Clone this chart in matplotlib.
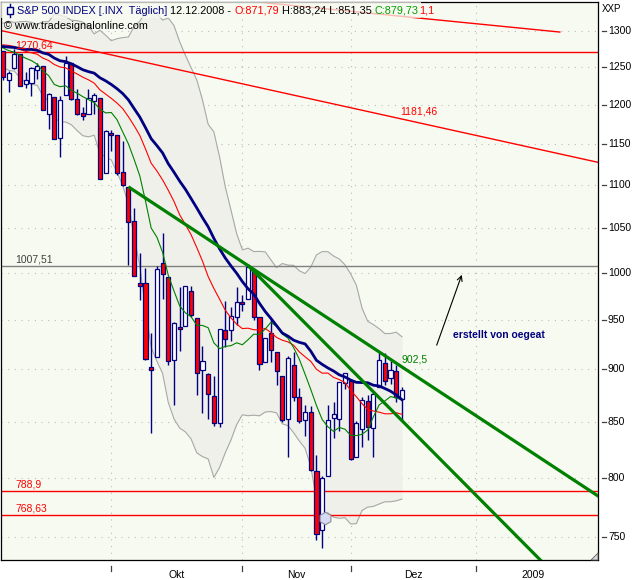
import matplotlib
matplotlib.use("Agg")
import matplotlib.pyplot as plt
import matplotlib.transforms as mtransforms
from matplotlib.patches import Rectangle, Polygon
from matplotlib.lines import Line2D
import numpy as np

plt.rcParams['font.family'] = ['Liberation Sans', 'DejaVu Sans']

# S&P 500 daily bars 04.09.2008 .. 12.12.2008 (bar index 0..70)
opens = [1271.80, 1233.21, 1249.50, 1267.98, 1227.50, 1229.04, 1245.88, 1250.92, 1188.31, 1210.34,
         1157.08, 1213.11, 1255.37, 1207.61, 1188.79, 1187.87, 1204.47, 1209.07, 1113.78, 1164.17,
         1160.64, 1115.16, 1097.56, 1057.60, 988.91, 988.42, 902.31, 912.75, 1009.97, 994.60,
         909.53, 942.29, 943.51, 980.40, 951.67, 899.08, 895.22, 874.28, 848.92, 939.51,
         939.38, 953.11, 968.67, 971.31, 1001.84, 952.40, 907.44, 936.75, 917.15, 893.39,
         853.13, 904.36, 873.23, 852.34, 859.03, 805.87, 755.84, 801.20, 853.40, 852.90,
         886.89, 888.61, 817.94, 843.60, 869.75, 844.43, 882.71, 906.48, 892.17, 898.35,
         871.79]
highs = [1271.80, 1244.94, 1274.42, 1268.66, 1243.90, 1249.98, 1255.09, 1250.92, 1214.84, 1210.34,
         1211.14, 1265.12, 1255.37, 1221.15, 1197.41, 1220.03, 1215.77, 1209.07, 1168.03, 1167.03,
         1160.64, 1153.82, 1097.56, 1072.91, 1021.06, 1005.25, 936.36, 1006.93, 1044.31, 994.60,
         947.71, 984.64, 985.40, 985.44, 951.67, 922.83, 896.30, 893.78, 940.51, 969.97,
         963.23, 984.38, 975.57, 1007.51, 1001.84, 952.40, 931.46, 951.95, 917.15, 893.39,
         913.01, 916.88, 882.29, 865.90, 864.57, 820.52, 801.20, 865.60, 868.94, 887.68,
         896.25, 888.61, 850.54, 873.12, 875.60, 879.42, 918.57, 916.26, 908.27, 904.63,
         883.24]
lows = [1232.83, 1217.23, 1247.12, 1224.51, 1221.60, 1211.54, 1233.81, 1192.70, 1169.28, 1155.88,
        1133.50, 1213.11, 1205.61, 1187.06, 1179.79, 1187.87, 1187.54, 1106.39, 1113.78, 1140.77,
        1111.43, 1098.14, 1007.97, 996.23, 970.97, 909.19, 839.80, 912.75, 972.07, 903.99,
        865.83, 918.74, 943.51, 952.47, 875.81, 858.44, 852.85, 846.75, 845.27, 922.26,
        928.50, 944.59, 958.82, 971.31, 949.86, 899.73, 906.90, 907.47, 884.90, 850.48,
        818.69, 869.88, 848.98, 837.54, 806.18, 747.78, 741.02, 801.20, 834.99, 841.37,
        881.21, 815.69, 817.94, 827.60, 833.60, 818.41, 882.71, 885.38, 885.45, 868.73,
        851.35]
closes = [1236.83, 1242.31, 1267.79, 1224.51, 1232.04, 1249.05, 1251.70, 1192.70, 1213.60, 1156.39,
          1206.51, 1255.08, 1207.09, 1188.22, 1185.87, 1209.18, 1213.27, 1106.39, 1166.36, 1161.06,
          1114.28, 1099.23, 1056.89, 996.23, 984.94, 909.92, 899.22, 1003.35, 998.01, 907.84,
          946.43, 940.55, 985.40, 955.05, 896.78, 908.11, 876.77, 848.92, 940.51, 930.09,
          954.09, 968.75, 966.30, 1005.75, 952.77, 904.88, 930.99, 919.21, 898.95, 852.30,
          911.29, 873.29, 850.75, 859.12, 806.58, 752.44, 800.03, 851.81, 857.39, 887.68,
          896.24, 816.21, 848.81, 870.74, 845.22, 876.07, 909.70, 888.67, 899.24, 873.59,
          879.73]

# indicator lines as shown on the chart
ma_slow = [1278.3, 1277.6, 1277.0, 1275.4, 1274.3, 1274.3, 1273.1, 1269.5, 1267.6, 1262.4,
           1258.7, 1257.5, 1254.5, 1250.7, 1246.5, 1243.9, 1241.9, 1235.7, 1231.6, 1226.7,
           1221.1, 1214.7, 1206.4, 1195.1, 1184.1, 1170.5, 1156.5, 1147.9, 1138.8, 1125.5,
           1115.2, 1104.4, 1094.7, 1083.7, 1072.7, 1061.4, 1051.0, 1037.8, 1026.1, 1015.9,
           1007.2, 999.2, 990.2, 982.5, 976.8, 967.1, 958.6, 951.4, 943.9, 936.4,
           933.2, 929.1, 926.9, 925.4, 918.1, 909.0, 905.0, 901.5, 898.5, 894.8,
           892.7, 889.7, 887.5, 887.3, 887.1, 884.7, 884.0, 881.6, 879.0, 875.5,
           870.9]
ma20 = [1280.8, 1279.8, 1278.4, 1274.4, 1271.5, 1269.7, 1267.6, 1262.4, 1259.1, 1253.6,
        1250.2, 1249.0, 1244.8, 1240.8, 1236.5, 1232.9, 1228.5, 1219.6, 1214.0, 1208.3,
        1202.2, 1195.0, 1184.5, 1173.1, 1160.7, 1143.8, 1126.1, 1116.7, 1105.9, 1093.5,
        1080.4, 1064.7, 1053.6, 1042.0, 1027.5, 1012.5, 995.6, 982.8, 971.5, 959.9,
        951.9, 945.4, 940.9, 941.3, 939.7, 939.5, 941.1, 936.9, 931.9, 929.1,
        927.4, 924.0, 917.3, 912.5, 908.0, 900.2, 896.4, 896.5, 892.3, 890.2,
        887.3, 879.7, 873.8, 867.1, 861.7, 860.3, 859.2, 857.7, 857.7, 858.7,
        857.2]
ma10 = [1276.3, 1272.7, 1270.3, 1266.1, 1262.1, 1258.9, 1254.0, 1244.9, 1238.6, 1226.7,
        1223.7, 1224.9, 1218.9, 1215.2, 1210.6, 1206.6, 1202.8, 1194.2, 1189.4, 1189.9,
        1180.7, 1165.1, 1150.1, 1130.9, 1110.8, 1080.9, 1049.5, 1039.2, 1022.3, 997.0,
        980.2, 964.3, 957.2, 953.1, 944.3, 944.1, 941.8, 926.4, 920.6, 922.9,
        923.6, 926.5, 924.5, 929.6, 935.2, 934.9, 940.3, 947.3, 943.2, 935.4,
        931.1, 921.6, 910.0, 895.4, 880.7, 865.5, 852.4, 845.7, 841.5, 845.0,
        843.5, 837.8, 837.6, 838.8, 842.7, 855.0, 866.0, 869.7, 873.9, 872.5,
        870.8]
bb_upper = [1311.1, 1314.0, 1312.2, 1313.2, 1313.7, 1312.4, 1309.6, 1313.2, 1313.4, 1323.9,
            1322.5, 1320.3, 1315.4, 1314.8, 1312.7, 1307.0, 1296.0, 1301.2, 1294.1, 1286.5,
            1289.2, 1290.8, 1291.6, 1306.2, 1314.0, 1326.4, 1330.4, 1325.2, 1315.5, 1318.5,
            1307.9, 1285.0, 1266.3, 1249.4, 1233.0, 1206.3, 1174.7, 1165.1, 1133.8, 1097.7,
            1070.2, 1043.1, 1024.9, 1026.8, 1023.0, 1023.2, 1022.8, 1013.9, 1005.3, 1009.8,
            1008.1, 1007.8, 1001.9, 998.9, 1005.8, 1019.3, 1023.0, 1022.9, 1018.1, 1014.8,
            1008.5, 998.5, 986.4, 962.0, 948.4, 944.9, 940.8, 935.8, 935.9, 937.2,
            932.6]
bb_lower = [1250.5, 1245.6, 1244.6, 1235.6, 1229.3, 1226.9, 1225.6, 1211.5, 1204.8, 1183.3,
            1177.8, 1177.7, 1174.1, 1166.8, 1160.3, 1158.8, 1160.9, 1138.0, 1133.9, 1130.1,
            1115.2, 1099.2, 1077.4, 1039.9, 1007.4, 961.2, 921.9, 908.1, 896.2, 868.4,
            853.0, 844.5, 841.0, 834.6, 822.1, 818.7, 816.6, 800.4, 809.1, 822.1,
            833.6, 847.7, 856.8, 855.9, 856.4, 855.8, 859.3, 859.8, 858.5, 848.4,
            846.7, 840.2, 832.7, 826.1, 810.2, 781.1, 769.8, 770.1, 766.6, 765.6,
            766.2, 760.9, 761.2, 772.2, 775.0, 775.6, 777.6, 779.5, 779.5, 780.3,
            781.8]

month_starts = [19, 42, 61, 83]
month_ends = [42, 61, 83, 103]
month_labels = ['Okt', 'Nov', 'Dez', '2009']
price_ticks = [750, 800, 850, 900, 950, 1000, 1050, 1100, 1150, 1200, 1250, 1300]

hline_values = [1270.64, 1007.51, 788.9, 768.63]
hline_labels = ['1270,64', '1007,51', '788,9', '768,63']
hline_colors = ['#ff0000', '#808080', '#ff0000', '#ff0000']
hline_text_colors = ['#ff0000', '#404040', '#ff0000', '#ff0000']

# trend lines: two anchor points (bar index, price) and the bar where they end
green_up = [(22, 1097.56), (43, 1007.51), 105]
green_steep = [(43, 1007.51), (70, 851.35), 105]
red_long = [(-0.5, 1301.0), (70, 1181.46), 105]
red_top = [(40, 1345.5), (97.7, 1298.6), 97.7]

arrow_from = (76.1, 924.1)
arrow_to = (80.5, 997.5)
marker_pt = (56.5, 765.7)

BG = '#f7faf0'
BAND = '#eef0e9'
NAVY = '#000080'
GREEN = '#008000'
RED = '#ff0000'


def trend(line):
    (i0, p0), (i1, p1), i_end = line
    p_end = p0 * (p1 / p0) ** ((i_end - i0) / (i1 - i0))
    return [i0, i_end], [p0, p_end]


def pa(px, py):
    # figure pixel -> axes fraction (axes spans x 1..598, y 2..560)
    return (px - 1) / 597, (560 - py) / 558


fig = plt.figure(figsize=(6.4, 5.8), dpi=100)
fig.patch.set_facecolor('white')
ax = fig.add_axes([1 / 640, 20 / 580, 597 / 640, 558 / 580])
ax.set_facecolor(BG)
ax.set_yscale('log')
ax.set_xlim(-0.35, 104.4)
ax.set_ylim(731.7, 1341.7)
ax.set_xticks([])
ax.set_yticks([])
ax.set_yticks([], minor=True)
for sp in ax.spines.values():
    sp.set_color('black')
    sp.set_linewidth(0.9)

# dotted grid
for v in price_ticks:
    ax.axhline(v, color='#bcbcbc', lw=0.8, ls=(0, (1, 5)), zorder=0.5)
for m in month_starts:
    ax.axvline(m, color='#bcbcbc', lw=0.8, ls=(0, (1, 5)), zorder=0.5)

x = np.arange(len(closes))

# bollinger band
ax.fill_between(x, bb_lower, bb_upper, color=BAND, lw=0, zorder=1)
ax.plot(x, bb_upper, color='#a8a8a8', lw=0.8, zorder=1.5)
ax.plot(x, bb_lower, color='#a8a8a8', lw=0.8, zorder=1.5)

# horizontal levels
for v, lab, c, tc in zip(hline_values, hline_labels, hline_colors, hline_text_colors):
    ax.axhline(v, color=c, lw=1.0, zorder=2)
    ax.annotate(lab, (2.1, v), xytext=(0, 2.5), textcoords='offset points',
                color=tc, fontsize=7.5, ha='left', va='baseline', zorder=6)

# candles
o = np.array(opens)
c = np.array(closes)
bottoms = np.minimum(o, c)
heights = np.maximum(np.abs(c - o), 0.6)
fills = [RED if cc < oo else 'white' for oo, cc in zip(opens, closes)]
ax.vlines(x, lows, highs, color=NAVY, lw=1.0, zorder=3)
ax.bar(x, heights, bottom=bottoms, width=0.72, color=fills, edgecolor=NAVY,
       linewidth=0.9, zorder=3.1)

# moving averages
ax.plot(x, ma20, color=RED, lw=0.8, zorder=4)
ax.plot(x, ma10, color=GREEN, lw=0.8, zorder=4)
ax.plot(x, ma_slow, color=NAVY, lw=2.0, zorder=4.2)

# trend lines
for line in (green_up, green_steep):
    xs, ys = trend(line)
    ax.plot(xs, ys, color=GREEN, lw=2.3, zorder=5, solid_capstyle='butt')
for line in (red_long, red_top):
    xs, ys = trend(line)
    ax.plot(xs, ys, color=RED, lw=1.0, zorder=2)

ax.annotate('1181,46', (69.7, 1181.46), xytext=(0, 3.5), textcoords='offset points',
            color=RED, fontsize=7.5, ha='left', va='baseline', zorder=6)
ax.annotate('902,5', (70, 902.6), xytext=(0, 3), textcoords='offset points',
            color=GREEN, fontsize=7.5, ha='left', va='baseline', zorder=6)

ax.annotate('', xy=arrow_to, xytext=arrow_from,
            arrowprops=dict(arrowstyle='->', color='black', lw=0.8,
                            shrinkA=0, shrinkB=0, mutation_scale=9), zorder=6)
ax.text(78.9, 934.2, 'erstellt von oegeat', color=NAVY, fontsize=7.5,
        fontweight='bold', ha='left', va='center', zorder=6)
ax.plot(*marker_pt, marker='h', ms=9, mfc='#d6daf2', mec='#8c8c9c', mew=0.8, zorder=6)

# header
ax.add_patch(Rectangle((0, pa(0, 18)[1]), pa(421, 0)[0], 1 - pa(0, 18)[1],
                       transform=ax.transAxes, facecolor=BG, alpha=0.75,
                       edgecolor='none', zorder=9))
ax.add_line(Line2D([pa(10, 0)[0]] * 2, [pa(0, 4)[1], pa(0, 17)[1]],
                   transform=ax.transAxes, color=NAVY, lw=1.0, zorder=10))
ax.add_patch(Rectangle(pa(7, 14), pa(13, 0)[0] - pa(7, 0)[0], pa(0, 7)[1] - pa(0, 14)[1],
                       transform=ax.transAxes, facecolor=BG, edgecolor=NAVY, lw=1.0, zorder=10))
segments = [('S&P 500 INDEX [.INX  Täglich]', NAVY), (' 12.12.2008 - ', 'black'),
            ('O:871,79', RED), (' H:883,24 L:851,35 ', 'black'),
            ('C:879,73', '#00a000'), ('1,1', RED)]
tx, ty = pa(17, 10.5)
t = ax.text(tx, ty, segments[0][0], color=segments[0][1], fontsize=7.8,
            transform=ax.transAxes, ha='left', va='center', zorder=10)
for s, col in segments[1:]:
    t = ax.annotate(s, xy=(1, 0), xycoords=t, color=col, fontsize=7.8,
                    ha='left', va='bottom', zorder=10)
cx, cy = pa(4, 26)
ax.text(cx, cy, '© www.tradesignalonline.com', color='black', fontsize=7.8,
        transform=ax.transAxes, ha='left', va='center', zorder=10)

# resize grip in the lower right corner
ax.add_patch(Polygon([pa(598, 560), pa(598, 553), pa(591, 560)], closed=True,
                     transform=ax.transAxes, facecolor='#d8d8d8', edgecolor='#606060',
                     lw=0.6, zorder=10, clip_on=False))

# right price scale
ty_tr = mtransforms.blended_transform_factory(ax.transAxes, ax.transData)
for v in price_ticks:
    ax.plot([pa(602, 0)[0], pa(606, 0)[0]], [v, v], transform=ty_tr, clip_on=False,
            color='#404040', lw=0.9)
    ax.text(pa(608, 0)[0], v, str(v), transform=ty_tr, ha='left', va='center',
            fontsize=7.5, color='black')
fig.text(611 / 640, 1 - 9 / 580, 'XXP', ha='center', va='center', fontsize=7)

# month scale
tx_tr = mtransforms.blended_transform_factory(ax.transData, ax.transAxes)
for m0, m1, lab in zip(month_starts, month_ends, month_labels):
    ax.plot([m0, m0], [pa(0, 566)[1], pa(0, 571)[1]], transform=tx_tr, clip_on=False,
            color='#404040', lw=0.9)
    ax.text((m0 + m1) / 2, pa(0, 575)[1], lab, transform=tx_tr, ha='center', va='center',
            fontsize=7.5, color='black')

fig.savefig('out.png', dpi=100, facecolor='white')
